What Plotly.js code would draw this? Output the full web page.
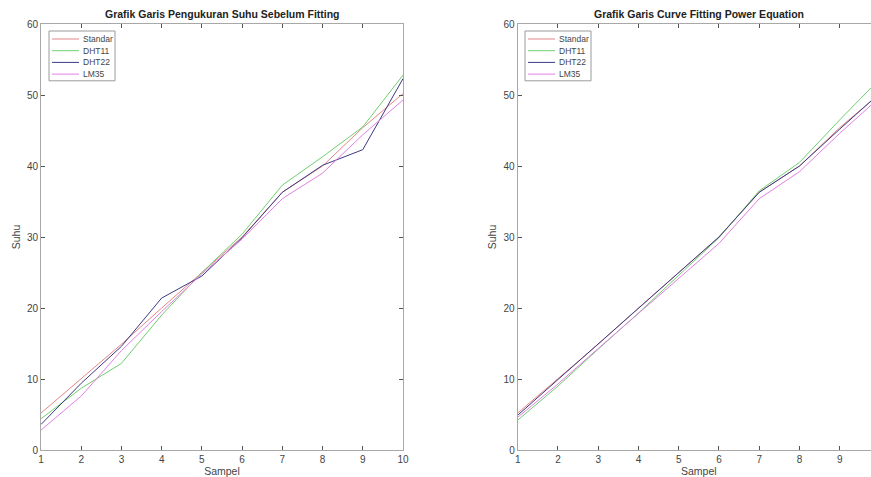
<!DOCTYPE html>
<html>
<head>
<meta charset="utf-8">
<script src="https://cdn.plot.ly/plotly-3.0.1.min.js"></script>
<style>
html,body{margin:0;padding:0;overflow:hidden;background:#fff;width:871px;height:477px;}
#chart{width:900px;height:477px;}
</style>
</head>
<body>
<div id="chart"></div>
<script>
// ---- data ----
const sampel = [1, 2, 3, 4, 5, 6, 7, 8, 9, 10];
const seriesNames = ["Standar", "DHT11", "DHT22", "LM35"];

// Left: measurements before fitting
const standarBefore = [5.2, 10.1, 14.9, 20.0, 25.0, 30.0, 36.3, 40.0, 45.4, 50.2];
const dht11Before   = [4.4, 8.7, 12.2, 19.0, 25.0, 30.4, 37.3, 41.3, 45.5, 52.8];
const dht22Before   = [3.6, 9.4, 14.6, 21.4, 24.5, 29.9, 36.3, 40.1, 42.3, 52.3];
const lm35Before    = [2.8, 7.6, 14.0, 19.5, 24.8, 29.7, 35.4, 39.0, 44.4, 49.3];

// Right: after curve fitting (power equation)
const standarAfter = [5.2, 10.1, 14.9, 20.0, 25.0, 30.0, 36.3, 40.0, 45.4, 50.2];
const dht11After   = [4.2, 9.0, 14.2, 19.3, 24.6, 29.9, 36.5, 40.5, 46.5, 52.3];
const dht22After   = [4.9, 9.9, 15.0, 19.9, 24.9, 30.0, 36.3, 40.0, 45.2, 50.3];
const lm35After    = [4.6, 9.3, 14.3, 19.2, 24.2, 29.1, 35.4, 39.2, 44.6, 49.7];

const titles = ["Grafik Garis Pengukuran Suhu Sebelum Fitting", "Grafik Garis Curve Fitting Power Equation"];
const xTitle = "Sampel";
const yTitle = "Suhu";

// ---- styling ----
const colors = ["#e58585", "#6fcf6f", "#3b3b82", "#e27fe2"];
const font = "Liberation Sans, Arial, sans-serif";
const W = 900, H = 477, MT = 24, MB = 27;
const PH = H - MT - MB;

const before = [standarBefore, dht11Before, dht22Before, lm35Before];
const after = [standarAfter, dht11After, dht22After, lm35After];

const traces = [];
before.forEach((ys, i) => traces.push({
  x: sampel, y: ys, type: "scatter", mode: "lines", name: seriesNames[i],
  line: {color: colors[i], width: 1}, xaxis: "x", yaxis: "y", showlegend: false
}));
after.forEach((ys, i) => traces.push({
  x: sampel, y: ys, type: "scatter", mode: "lines", name: seriesNames[i],
  line: {color: colors[i], width: 1}, xaxis: "x2", yaxis: "y2", showlegend: false
}));

function xax(domain, anchor, tv) {
  return {
    domain: domain, anchor: anchor, range: [1, 10], tickvals: tv,
    showline: true, mirror: "ticks", linecolor: "#a8a8a8", linewidth: 1,
    ticks: "inside", ticklen: 4, tickcolor: "#555", showgrid: false, zeroline: false,
    tickfont: {family: font, size: 10, color: "#444"},
    title: {text: xTitle, font: {family: font, size: 10.5, color: "#444"}, standoff: 3}
  };
}
function yax(anchor) {
  return {
    domain: [0, 1], anchor: anchor, range: [0, 60], dtick: 10,
    showline: true, mirror: "ticks", linecolor: "#a8a8a8", linewidth: 1,
    ticks: "inside", ticklen: 4, tickcolor: "#555", showgrid: false, zeroline: false,
    tickfont: {family: font, size: 10, color: "#444"},
    title: {text: yTitle, font: {family: font, size: 10.5, color: "#444"}, standoff: 4}
  };
}

const d1 = [41 / W, 403 / W];
const d2 = [517.7 / W, 880 / W];

// helpers: pixel -> paper
const px = (p) => p / W;
const py = (p) => (H - MB - p) / PH;

// custom compact legend (MATLAB style)
const shapes = [];
const annotations = [];
function addLegend(left) {
  const top = 31, rowH = 11.7, boxW = 66;
  shapes.push({type: "rect", xref: "paper", yref: "paper",
    x0: px(left), x1: px(left + boxW), y0: py(top), y1: py(top + rowH * seriesNames.length + 3),
    line: {color: "#9a9a9a", width: 1}, fillcolor: "#ffffff", layer: "above"});
  seriesNames.forEach((nm, i) => {
    const yc = top + 8 + i * rowH;
    shapes.push({type: "line", xref: "paper", yref: "paper",
      x0: px(left + 3), x1: px(left + 30), y0: py(yc), y1: py(yc),
      line: {color: colors[i], width: 1}, layer: "above"});
    annotations.push({text: nm, xref: "paper", yref: "paper", x: px(left + 32), y: py(yc),
      xanchor: "left", yanchor: "middle", showarrow: false,
      font: {family: font, size: 8.5, color: "#444"}});
  });
}
addLegend(49);
addLegend(525);

titles.forEach((t, i) => {
  const d = i === 0 ? d1 : d2;
  annotations.push({text: "<b>" + t + "</b>", xref: "paper", yref: "paper", x: (d[0] + d[1]) / 2, y: 1,
    xanchor: "center", yanchor: "bottom", yshift: 2, showarrow: false,
    font: {family: font, size: 10.5, color: "#222"}});
});

const layout = {
  width: W, height: H,
  margin: {l: 0, r: 0, t: MT, b: MB, pad: 0},
  paper_bgcolor: "#fff", plot_bgcolor: "#fff",
  showlegend: false,
  xaxis: xax(d1, "y", sampel), yaxis: yax("x"),
  xaxis2: xax(d2, "y2", sampel.slice(0, 9)), yaxis2: yax("x2"),
  shapes: shapes,
  annotations: annotations
};

Plotly.newPlot("chart", traces, layout, {displayModeBar: false, staticPlot: true});
</script>
</body>
</html>
